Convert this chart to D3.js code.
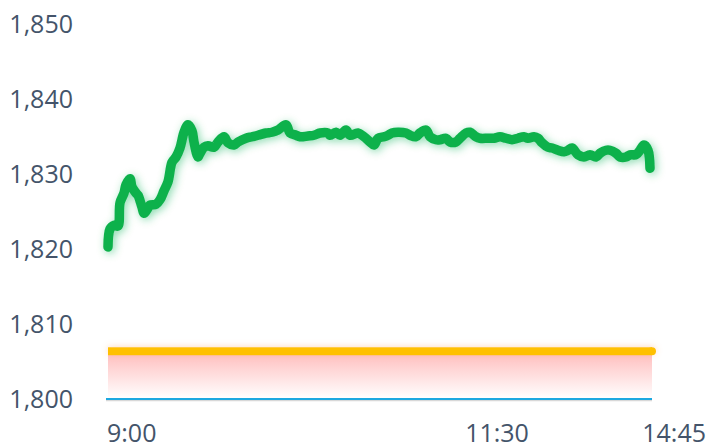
<!DOCTYPE html>
<html><head><meta charset="utf-8">
<script src="https://cdn.jsdelivr.net/npm/d3@7"></script>
<style>body{margin:0;background:#fff}svg{display:block}</style>
</head><body>
<svg id="chart" width="708" height="448"></svg>
<script>
// observation number (2-tick step) and price
const obsIndex = [0,1,3,5,6,8,9,11,12,14,15,17,18,20,21,24,26,28,30,32,34,36,38,40,42,43,45,46,48,50,53,55,58,60,63,65,69,72,75,79,82,85,89,91,94,96,100,103,106,110,111,114,116,119,121,125,128,131,133,135,138,140,142,145,149,151,154,156,159,161,164,166,169,171,174,176,179,181,184,186,190,193,196,199,202,205,208,210,213,215,217,220,222,225,228,230,232,235,238,241,244,246,249,251,254,256,259,261,264,266,268,270,271];
const prices = [1820.2,1822.6,1823.1,1823.0,1826.1,1827.4,1828.5,1829.3,1828.2,1827.4,1827.1,1825.5,1824.7,1825.4,1825.8,1825.9,1826.5,1827.7,1828.9,1831.5,1832.2,1833.4,1835.5,1836.5,1835.7,1834.2,1832.2,1832.7,1833.5,1833.7,1833.5,1834.2,1834.9,1834.1,1833.8,1834.2,1834.7,1834.9,1835.1,1835.4,1835.5,1835.8,1836.5,1835.4,1835.1,1834.9,1835.0,1835.1,1835.4,1835.4,1835.1,1835.5,1835.1,1835.8,1835.1,1835.4,1834.9,1834.2,1833.8,1834.7,1834.9,1835.1,1835.4,1835.5,1835.4,1835.1,1834.9,1835.4,1835.8,1834.9,1834.5,1834.5,1834.7,1834.2,1834.2,1834.7,1835.4,1835.5,1834.9,1834.7,1834.7,1834.7,1834.9,1834.7,1834.5,1834.7,1834.9,1834.7,1834.9,1834.7,1834.1,1833.5,1833.4,1833.1,1832.9,1833.1,1833.4,1832.5,1832.2,1832.5,1832.2,1832.7,1833.1,1833.1,1832.7,1832.2,1832.2,1832.5,1832.5,1833.1,1833.8,1833.1,1830.7];
const yTickValues = [1800,1810,1820,1830,1840,1850];
const xTickLabels = ["9:00","11:30","14:45"];
const xTickIndex = [0,194.5,272];
const referencePrice = 1806.3;
const basePrice = 1800;

const svg = d3.select("#chart");
const x = d3.scaleLinear().domain([0,272]).range([108,652]);
const y = d3.scaleLinear().domain([1800,1850]).range([398.5,23.5]);

const defs = svg.append("defs");
const gg = defs.append("filter").attr("id","greenGlow").attr("filterUnits","userSpaceOnUse")
  .attr("x",0).attr("y",0).attr("width",708).attr("height",448);
gg.append("feGaussianBlur").attr("in","SourceAlpha").attr("stdDeviation",4).attr("result","b");
gg.append("feOffset").attr("in","b").attr("dx",1.5).attr("dy",2).attr("result","o");
gg.append("feFlood").attr("flood-color","#00b050").attr("flood-opacity",0.45).attr("result","f");
gg.append("feComposite").attr("in","f").attr("in2","o").attr("operator","in").attr("result","g");
const gm = gg.append("feMerge"); gm.append("feMergeNode").attr("in","g"); gm.append("feMergeNode").attr("in","SourceGraphic");

const og = defs.append("filter").attr("id","orangeGlow").attr("filterUnits","userSpaceOnUse")
  .attr("x",0).attr("y",0).attr("width",708).attr("height",448);
og.append("feGaussianBlur").attr("in","SourceAlpha").attr("stdDeviation",3).attr("result","b");
og.append("feOffset").attr("in","b").attr("dx",0).attr("dy",-1).attr("result","o");
og.append("feFlood").attr("flood-color","#ffa060").attr("flood-opacity",0.35).attr("result","f");
og.append("feComposite").attr("in","f").attr("in2","o").attr("operator","in").attr("result","g");
const om = og.append("feMerge"); om.append("feMergeNode").attr("in","g"); om.append("feMergeNode").attr("in","SourceGraphic");

const grad = defs.append("linearGradient").attr("id","pinkFill").attr("x1",0).attr("y1",0).attr("x2",0).attr("y2",1);
grad.append("stop").attr("offset","0%").attr("stop-color","#ffbcbc");
grad.append("stop").attr("offset","100%").attr("stop-color","#ffffff");

// pink area between reference and base
const band = [0,272];
svg.append("path")
  .attr("fill","url(#pinkFill)")
  .attr("d", d3.area().x(d=>x(d)).y0(y(basePrice)).y1(y(referencePrice))(band));

// base line shadow + base line
svg.append("line").attr("x1",x(0)-2).attr("x2",x(272)).attr("y1",y(basePrice)+2).attr("y2",y(basePrice)+2)
  .attr("stroke","#c8c8c8").attr("stroke-width",1.5).attr("opacity",0.7);
svg.append("line").attr("x1",x(0)-2).attr("x2",x(272)).attr("y1",y(basePrice)+0.5).attr("y2",y(basePrice)+0.5)
  .attr("stroke","#1ca8e0").attr("stroke-width",2);

// reference (orange) line
const og2 = svg.append("g").attr("filter","url(#orangeGlow)");
og2.append("path")
  .attr("d", d3.line().x(d=>x(d)).y(()=>y(referencePrice))(band))
  .attr("stroke","#ffc000").attr("stroke-width",8).attr("fill","none")
  .attr("stroke-linecap","butt");
og2.append("circle").attr("cx",x(272)).attr("cy",y(referencePrice)).attr("r",4).attr("fill","#ffc000");

// price line
const pts = obsIndex.map((d,i)=>[d,prices[i]]);
svg.append("g").attr("filter","url(#greenGlow)").append("path")
  .datum(pts)
  .attr("fill","none")
  .attr("stroke","#0db14b")
  .attr("stroke-width",9.5)
  .attr("stroke-linejoin","round")
  .attr("stroke-linecap","round")
  .attr("d", d3.line().curve(d3.curveCatmullRom.alpha(0.5)).x(d=>x(d[0])).y(d=>y(d[1])));

// y labels
const fmt = d3.format(",");
svg.append("g").selectAll("text").data(yTickValues).join("text")
  .attr("x",73).attr("y",d=>y(d)+9)
  .attr("text-anchor","end")
  .attr("font-family","'Open Sans', sans-serif").attr("font-size",25)
  .attr("fill","#44546a")
  .text(d=>fmt(d));

// x labels
const anchors = ["start","middle","end"];
svg.append("g").selectAll("text").data(xTickLabels).join("text")
  .attr("x",(d,i)=> i===xTickLabels.length-1 ? 706 : x(xTickIndex[i]) - (i===0?1:0))
  .attr("y",442)
  .attr("text-anchor",(d,i)=>anchors[i])
  .attr("font-family","'Open Sans', sans-serif").attr("font-size",25)
  .attr("fill","#44546a")
  .text(d=>d);
</script>
</body></html>
